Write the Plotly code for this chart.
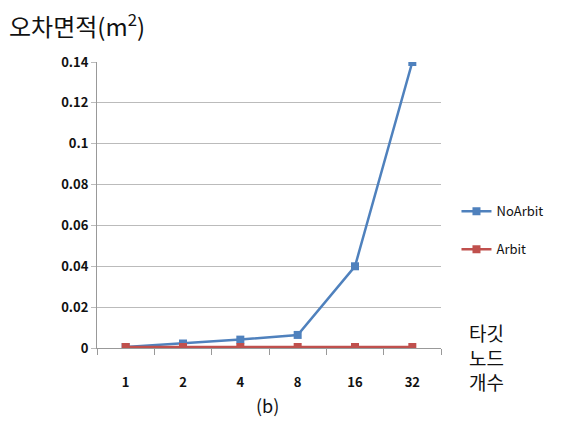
import plotly.graph_objects as go

categories = ["1", "2", "4", "8", "16", "32"]
noarbit = [0.0005, 0.0022, 0.0041, 0.0064, 0.040, 0.140]
arbit = [0.0005, 0.0005, 0.0005, 0.0005, 0.0005, 0.0005]
y_ticks = [0, 0.02, 0.04, 0.06, 0.08, 0.1, 0.12, 0.14]
y_ticklabels = ["0", "0.02", "0.04", "0.06", "0.08", "0.1", "0.12", "0.14"]

BLUE = "#4F81BD"
RED = "#C0504D"
FONT = "Noto Sans CJK KR"

fig = go.Figure()
fig.add_trace(go.Scatter(x=categories, y=noarbit, name="NoArbit", mode="lines+markers",
                         line=dict(color=BLUE, width=2.5),
                         marker=dict(symbol="square", size=8, color=BLUE),
                         legendgroup="a"))
fig.add_trace(go.Scatter(x=categories, y=arbit, name="Arbit", mode="lines+markers",
                         line=dict(color=RED, width=2.5),
                         marker=dict(symbol="square", size=8, color=RED),
                         legendgroup="b"))

fig.update_layout(
    width=553, height=436,
    margin=dict(l=89, r=116, t=54, b=96),
    paper_bgcolor="white", plot_bgcolor="white",
    font=dict(family=FONT, color="#111111"),
    showlegend=True,
    legend=dict(x=1.045, xanchor="left", y=0.53, yanchor="top",
                font=dict(size=13, family=FONT, color="#111"),
                traceorder="grouped", tracegroupgap=18, itemwidth=30,
                bgcolor="rgba(0,0,0,0)"),
    xaxis=dict(type="category", range=[-0.5, 5.5], showgrid=False,
               showline=True, linecolor="#999999", linewidth=1,
               ticks="outside", tickson="boundaries", ticklen=6, tickcolor="#999999",
               tickfont=dict(size=13, family=FONT, color="#111", weight="bold"),
               ticklabelstandoff=22),
    yaxis=dict(range=[0, 0.14], tickvals=y_ticks, ticktext=y_ticklabels,
               showgrid=True, gridcolor="#BBBBBB", gridwidth=1,
               showline=True, linecolor="#999999", linewidth=1,
               ticks="outside", ticklen=5, tickcolor="#BBBBBB",
               zeroline=False,
               tickfont=dict(size=13, family=FONT, color="#111", weight="bold")),
    annotations=[
        dict(text="오차면적(m<sup>2</sup>)", xref="paper", yref="paper",
             x=-0.262, y=1.13, xanchor="left", yanchor="middle", showarrow=False,
             font=dict(size=24, family=FONT, color="#111")),
        dict(text="(b)", xref="paper", yref="paper", x=0.497, y=-0.2,
             xanchor="center", yanchor="middle", showarrow=False,
             font=dict(size=18, family=FONT, color="#111")),
        dict(text="타깃<br>노드<br>개수", xref="paper", yref="paper", x=1.133, y=-0.03,
             xanchor="center", yanchor="middle", showarrow=False, align="center",
             font=dict(size=19, family=FONT, color="#111")),
    ],
)

fig.write_html("out.html")
